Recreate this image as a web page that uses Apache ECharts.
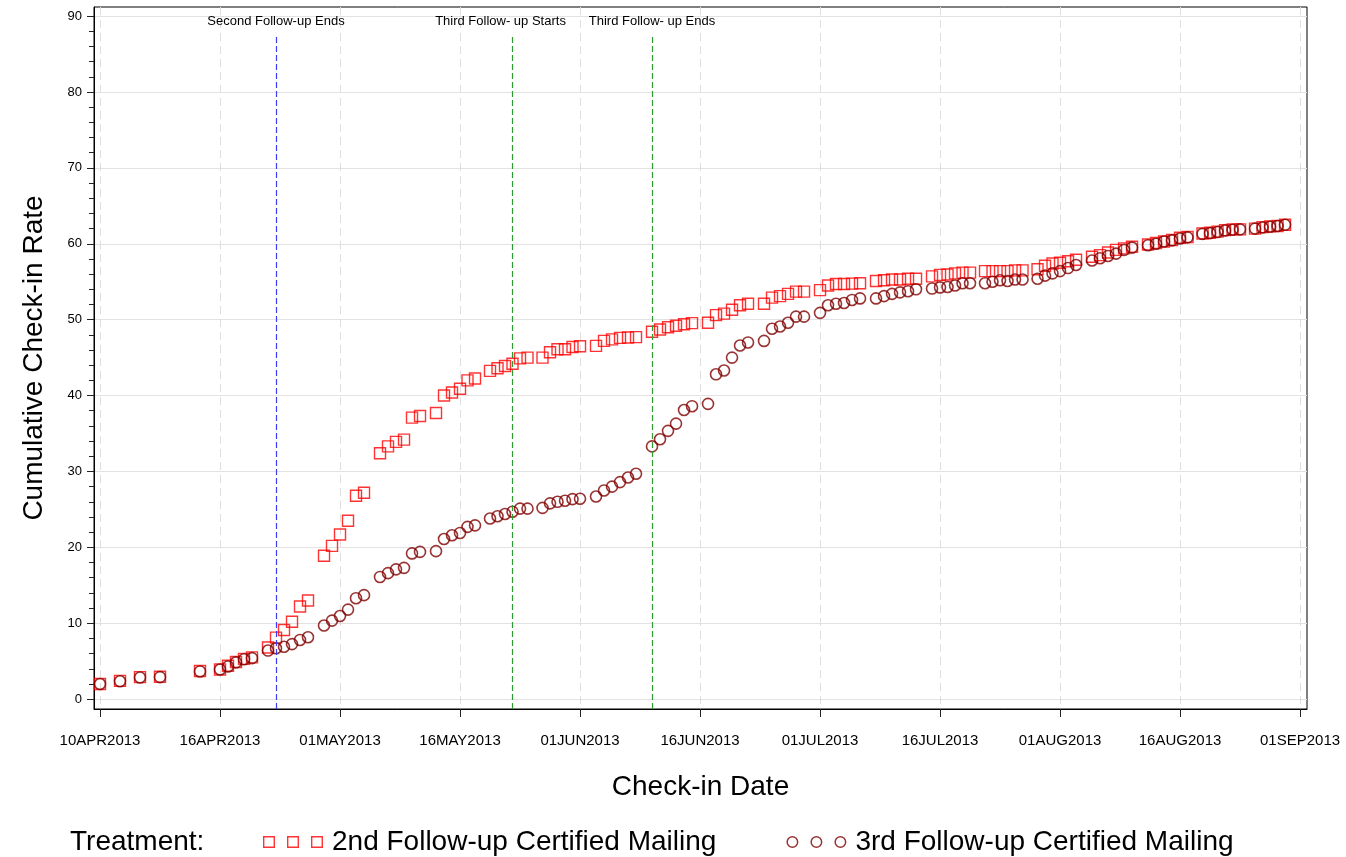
<!DOCTYPE html>
<html>
<head>
<meta charset="utf-8">
<title>Cumulative Check-in Rate</title>
<script src="https://cdn.jsdelivr.net/npm/echarts@6/dist/echarts.min.js"></script>
<style>
  html, body { margin: 0; padding: 0; background: #fff; }
  #chart { width: 1346px; height: 857px; }
</style>
</head>
<body>
<div id="chart"></div>
<script>
// axis ticks (SAS puts them at equal spacing, even the short first interval)
const tickDates = ['2013-04-10', '2013-04-16', '2013-05-01', '2013-05-16', '2013-06-01', '2013-06-16',
  '2013-07-01', '2013-07-16', '2013-08-01', '2013-08-16', '2013-09-01'];
const tickLabels = ['10APR2013', '16APR2013', '01MAY2013', '16MAY2013', '01JUN2013', '16JUN2013',
  '01JUL2013', '16JUL2013', '01AUG2013', '16AUG2013', '01SEP2013'];
const yTicks = [0, 10, 20, 30, 40, 50, 60, 70, 80, 90];

// check-in dates (2013, no sundays)
const checkinDates = [
  '04-10', '04-11', '04-12', '04-13', '04-15', '04-16', '04-17', '04-18', '04-19', '04-20', '04-22', '04-23',
  '04-24', '04-25', '04-26', '04-27', '04-29', '04-30',
  '05-01', '05-02', '05-03', '05-04', '05-06', '05-07', '05-08', '05-09', '05-10', '05-11', '05-13', '05-14',
  '05-15', '05-16', '05-17', '05-18', '05-20', '05-21', '05-22', '05-23', '05-24', '05-25', '05-27', '05-28',
  '05-29', '05-30', '05-31',
  '06-01', '06-03', '06-04', '06-05', '06-06', '06-07', '06-08', '06-10', '06-11', '06-12', '06-13', '06-14',
  '06-15', '06-17', '06-18', '06-19', '06-20', '06-21', '06-22', '06-24', '06-25', '06-26', '06-27', '06-28', '06-29',
  '07-01', '07-02', '07-03', '07-04', '07-05', '07-06', '07-08', '07-09', '07-10', '07-11', '07-12', '07-13',
  '07-15', '07-16', '07-17', '07-18', '07-19', '07-20', '07-22', '07-23', '07-24', '07-25', '07-26', '07-27',
  '07-29', '07-30', '07-31',
  '08-01', '08-02', '08-03', '08-05', '08-06', '08-07', '08-08', '08-09', '08-10', '08-12', '08-13', '08-14',
  '08-15', '08-16', '08-17', '08-19', '08-20', '08-21', '08-22', '08-23', '08-24', '08-26', '08-27', '08-28',
  '08-29', '08-30'
];

const rate2nd = [
  2.0, 2.4, 2.9, 2.95, 3.7, 3.9, 4.4, 4.9, 5.3, 5.5, 6.8, 8.1, 9.1, 10.2, 12.2, 13.0, 18.9, 20.2,
  21.7, 23.5, 26.8, 27.2, 32.4, 33.3, 33.9, 34.2, 37.1, 37.3, 37.7, 40.0, 40.4, 40.9, 42.0, 42.25, 43.25, 43.6,
  43.9, 44.2, 44.9, 45.0, 45.0, 45.7, 46.1, 46.1, 46.4,
  46.5, 46.55, 47.2, 47.4, 47.6, 47.65, 47.7, 48.4, 48.7, 49.0, 49.2, 49.4, 49.55, 49.6, 50.6, 50.8, 51.3, 51.9,
  52.1, 52.1, 52.9, 53.1, 53.4, 53.7, 53.7,
  53.9, 54.5, 54.7, 54.7, 54.75, 54.8, 55.1, 55.2, 55.3, 55.3, 55.4, 55.4, 55.7, 55.9, 55.95, 56.1, 56.2, 56.2,
  56.4, 56.4, 56.4, 56.4, 56.5, 56.5, 56.65, 57.1, 57.4,
  57.5, 57.7, 57.9, 58.3, 58.5, 58.85, 59.2, 59.4, 59.6, 59.9, 60.1, 60.3, 60.5, 60.8, 60.9, 61.35, 61.45, 61.6,
  61.8, 61.9, 61.9, 62.0, 62.2, 62.3, 62.35, 62.5
];

const rate3rd = [
  2.0, 2.35, 2.85, 2.9, 3.65, 3.9, 4.3, 4.85, 5.25, 5.4, 6.4, 6.7, 6.9, 7.25, 7.8, 8.15, 9.7, 10.35,
  10.95, 11.8, 13.3, 13.7, 16.1, 16.6, 17.1, 17.3, 19.2, 19.4, 19.5, 21.1, 21.6, 21.9, 22.7, 22.9, 23.8, 24.1,
  24.4, 24.7, 25.1, 25.1, 25.2, 25.8, 26.0, 26.15, 26.35,
  26.4, 26.7, 27.5, 28.0, 28.6, 29.2, 29.7, 33.3, 34.25, 35.35, 36.3, 38.1, 38.6, 38.9, 42.8, 43.3, 45.0, 46.6,
  47.0, 47.2, 48.8, 49.1, 49.6, 50.4, 50.4,
  50.9, 51.9, 52.1, 52.2, 52.6, 52.8, 52.8, 53.1, 53.4, 53.6, 53.75, 54.0, 54.1, 54.25, 54.3, 54.5, 54.8, 54.8,
  54.8, 55.0, 55.2, 55.1, 55.3, 55.3, 55.4, 55.8, 56.1,
  56.4, 56.8, 57.2, 57.8, 58.1, 58.4, 58.7, 59.2, 59.5, 59.8, 60.0, 60.3, 60.45, 60.7, 60.85, 61.3, 61.4, 61.55,
  61.75, 61.85, 61.9, 62.0, 62.15, 62.25, 62.35, 62.5
];

// reference lines
const refDates = ['04-23', '05-23', '06-10'];
const refLabels = ['Second Follow-up Ends', 'Third Follow- up Starts', 'Third Follow- up Ends'];

const seriesNames = ['2nd Follow-up Certified Mailing', '3rd Follow-up Certified Mailing'];

const FONT = '"Liberation Sans", Arial, sans-serif';
const Y_MIN = -1.3, Y_MAX = 91.2;

// position on the x axis: tick index plus fraction of the interval
function toAxisPos(md) {
  const t = Date.parse('2013-' + md);
  for (let i = 0; i < tickDates.length - 1; i++) {
    const a = Date.parse(tickDates[i]), b = Date.parse(tickDates[i + 1]);
    if (t <= b) return i + (t - a) / (b - a);
  }
  return tickDates.length - 1;
}

const tickIdx = tickLabels.map((_, i) => i);

// legend icons: three hollow squares / three rings
let squaresIcon = 'path://';
let circlesIcon = 'path://';
for (let k = 0; k < 3; k++) {
  const x = k * 24;
  squaresIcon += `M${x},0 h12 v12 h-12 Z M${x + 1.4},1.4 v9.2 h9.2 v-9.2 Z `;
  const cx = x + 6;
  circlesIcon += `M${cx - 6},6 a6,6 0 1,0 12,0 a6,6 0 1,0 -12,0 Z M${cx - 4.5},6 a4.5,4.5 0 1,1 9,0 a4.5,4.5 0 1,1 -9,0 Z `;
}

const refColors = ['#3c3cf5', '#2f9a2f', '#2f9a2f'];
const refOffsets = [[0, -7], [-12, -7], [0, -7]];

const chart = echarts.init(document.getElementById('chart'));

chart.setOption({
  animation: false,
  textStyle: { fontFamily: FONT },
  grid: { left: 94, right: 39, top: 7, bottom: 148, show: true, borderColor: '#000', borderWidth: 1 },
  xAxis: {
    type: 'value',
    min: -0.05,
    max: 10.058,
    splitNumber: 10,
    minInterval: 1,
    maxInterval: 1,
    name: 'Check-in Date',
    nameLocation: 'middle',
    nameGap: 64,
    nameTextStyle: { fontSize: 28, color: '#000', fontFamily: FONT },
    axisLine: { show: true, onZero: false, lineStyle: { color: '#000' } },
    axisTick: { show: true, length: 8, customValues: tickIdx, lineStyle: { color: '#222' } },
    axisLabel: {
      customValues: tickIdx,
      formatter: v => tickLabels[Math.round(v)],
      fontSize: 15, color: '#000', margin: 24, fontFamily: FONT
    },
    splitLine: { show: true, lineStyle: { color: '#dedede', type: [8, 5] } }
  },
  yAxis: {
    type: 'value',
    min: Y_MIN,
    max: Y_MAX,
    splitNumber: 9,
    minInterval: 10,
    maxInterval: 10,
    name: 'Cumulative Check-in Rate',
    nameLocation: 'middle',
    nameGap: 46,
    nameTextStyle: { fontSize: 28, color: '#000', fontFamily: FONT },
    axisLine: { show: true, onZero: false, lineStyle: { color: '#000' } },
    axisTick: { show: true, length: 7, customValues: yTicks, lineStyle: { color: '#222' } },
    minorTick: { show: true, splitNumber: 5, length: 5, lineStyle: { color: '#222' } },
    axisLabel: { customValues: yTicks, fontSize: 13, color: '#000', margin: 12, fontFamily: FONT },
    splitLine: { show: true, lineStyle: { color: '#e2e2e2', width: 1 } }
  },
  legend: {
    left: 258,
    top: 823,
    itemWidth: 60,
    itemHeight: 12,
    itemGap: 70,
    textStyle: { fontSize: 28, color: '#000', fontFamily: FONT, padding: [0, 0, 0, 4] },
    data: [
      { name: seriesNames[0], icon: squaresIcon, itemStyle: { color: '#ff0000', borderWidth: 0 } },
      { name: seriesNames[1], icon: circlesIcon, itemStyle: { color: '#800000', borderWidth: 0 } }
    ]
  },
  graphic: [{
    type: 'text',
    left: 70,
    top: 828,
    style: { text: 'Treatment:', fontSize: 28, fill: '#000', fontFamily: FONT }
  }],
  series: [
    {
      name: seriesNames[0],
      type: 'scatter',
      symbol: 'rect',
      symbolSize: 11,
      itemStyle: { color: 'rgba(0,0,0,0)', borderColor: '#ff0000', borderWidth: 1.4 },
      emphasis: { disabled: true },
      data: checkinDates.map((d, i) => [toAxisPos(d), rate2nd[i]]),
      markLine: {
        silent: true,
        symbol: ['none', 'none'],
        animation: false,
        data: refDates.map((d, i) => [
          {
            coord: [toAxisPos(d), Y_MIN],
            lineStyle: { color: refColors[i], type: [6, 3], width: 1.2 },
            label: {
              show: true, position: 'end', formatter: refLabels[i], distance: 2,
              offset: refOffsets[i], fontSize: 13, color: '#000', fontFamily: FONT
            }
          },
          { coord: [toAxisPos(d), 87.3] }
        ])
      }
    },
    {
      name: seriesNames[1],
      type: 'scatter',
      symbol: 'circle',
      symbolSize: 11,
      itemStyle: { color: 'rgba(0,0,0,0)', borderColor: '#800000', borderWidth: 1.6 },
      emphasis: { disabled: true },
      data: checkinDates.map((d, i) => [toAxisPos(d), rate3rd[i]])
    }
  ]
});
</script>
</body>
</html>
